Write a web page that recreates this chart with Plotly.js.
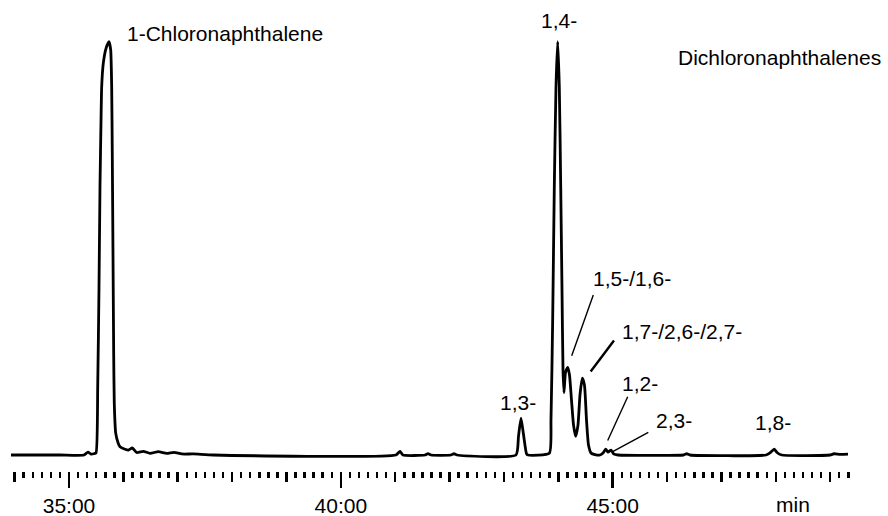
<!DOCTYPE html>
<html>
<head>
<meta charset="utf-8">
<script src="https://cdn.plot.ly/plotly-3.0.1.min.js"></script>
<style>html,body{margin:0;padding:0;background:#fff;}#chart{width:888px;height:516px;}</style>
</head>
<body>
<div id="chart"></div>
<script>
// retention time (minutes) and detector signal (% of the largest peak)
const time = [33.933,34.834,35.276,35.349,35.405,35.460,35.497,35.528,35.552,35.570,35.589,35.601,35.631,35.681,35.736,35.767,35.785,35.796,35.809,35.822,35.833,35.859,35.907,35.938,36.030,36.094,36.164,36.245,36.367,36.490,36.642,36.797,36.931,37.073,37.286,37.654,41.014,41.088,41.143,41.548,41.603,41.658,42.026,42.081,42.136,43.221,43.267,43.313,43.359,43.415,43.442,43.834,43.865,43.896,43.926,43.957,43.988,44.018,44.044,44.067,44.086,44.104,44.132,44.172,44.205,44.242,44.279,44.319,44.362,44.398,44.441,44.481,44.518,44.555,44.601,44.674,44.766,44.822,44.871,44.914,44.969,45.024,45.098,46.302,46.361,46.422,47.820,47.893,47.972,48.022,48.108,48.997,49.070,49.181,49.328];
const signal = [0,0,0,0.7,0.2,0.3,0.5,16.5,40.7,64.9,81.1,89.1,94.8,98.4,100,98,89.1,73,48.8,24.4,12.4,5.3,2.8,2.0,1.4,1.2,1.7,0.6,0.9,0.4,0.8,0.4,0.65,0.25,0.25,0,0,0.9,0,0,0.35,0,0,0.3,0,0,4.5,8.9,5,0.3,0,0.4,8.5,32.7,64.9,89.1,100,89.1,64.9,40.7,20.6,15.1,20,21.2,19.4,13.3,7.3,4.5,7.3,14.5,18.6,16.9,8.5,2.4,0.5,0.1,0,0.5,1.4,0.7,1.2,0.2,0,0,0.3,0,0,0.5,1.4,0.6,0,0,0.3,0.15,0.2];

// axis tick labels
const majorTickVals = [35, 40, 45];
const majorTickText = ["35:00", "40:00", "45:00"];
const axisUnit = "min";

// peak labels
const labelText = ["1-Chloronaphthalene", "1,4-", "Dichloronaphthalenes", "1,3-", "1,5-/1,6-", "1,7-/2,6-/2,7-", "1,2-", "2,3-", "1,8-"];
const labelTime = [37.869, 44.012, 48.059, 43.264, 45.364, 46.271, 45.502, 46.124, 47.948];
const labelSignal = [101.9, 105.1, 96.1, 12.7, 42.8, 29.8, 17.4, 8.3, 7.9];

// leader lines: from label to peak
const leaderT0 = [44.643, 45.024, 45.276, 45.655];
const leaderS0 = [38.7, 27.7, 14.1, 5.5];
const leaderT1 = [44.246, 44.595, 44.908, 45.000];
const leaderS1 = [24.0, 20.2, 3.5, 0.8];
const leaderWidth = [1.4, 2.4, 1.4, 1.4];

const FONT = "Liberation Sans, Arial, sans-serif";
const xRange = [33.9332, 49.3462];

const trace = {
  x: time, y: signal, type: "scatter", mode: "lines",
  line: {color: "#000", width: 2.8, shape: "spline", smoothing: 0.5},
  hoverinfo: "skip", showlegend: false
};
// carrier trace so the one-minute tick axis is drawn
const carrier = {
  x: [time[0]], y: [signal[0]], xaxis: "x2", yaxis: "y", type: "scatter", mode: "lines",
  line: {width: 0}, opacity: 0, hoverinfo: "skip", showlegend: false
};

const annotations = labelText.map((t, i) => ({
  x: labelTime[i], y: labelSignal[i], xref: "x", yref: "y",
  text: t, showarrow: false, xanchor: "center", yanchor: "middle",
  font: {family: FONT, size: 21, color: "#000"}
}));
annotations.push({
  x: 48.307, y: -0.0718, xref: "x", yref: "paper", text: axisUnit, showarrow: false,
  xanchor: "center", yanchor: "middle", font: {family: FONT, size: 21, color: "#000"}
});

const shapes = leaderT0.map((t, i) => ({
  type: "line", xref: "x", yref: "y",
  x0: t, y0: leaderS0[i], x1: leaderT1[i], y1: leaderS1[i],
  line: {color: "#000", width: leaderWidth[i]}
}));

const layout = {
  width: 888, height: 516,
  margin: {l: 11, r: 39, t: 0, b: 45, pad: 0},
  paper_bgcolor: "#fff", plot_bgcolor: "#fff",
  font: {family: FONT, size: 21, color: "#000"},
  showlegend: false,
  xaxis: {
    range: xRange, showgrid: false, zeroline: false, showline: false,
    ticks: "outside", tickmode: "array", tickvals: majorTickVals, ticktext: majorTickText,
    ticklen: 16, tickwidth: 2.5, tickcolor: "#000", ticklabelstandoff: 0,
    tickfont: {family: FONT, size: 21, color: "#000"},
    minor: {ticks: "outside", tickmode: "linear", tick0: 34, dtick: 1/6, ticklen: 6, tickwidth: 2.5, tickcolor: "#000", showgrid: false},
    fixedrange: true
  },
  xaxis2: {
    overlaying: "x", anchor: "y", side: "bottom", range: xRange,
    showgrid: false, zeroline: false, showline: false, showticklabels: false,
    ticks: "outside", tickmode: "linear", tick0: 34, dtick: 1,
    ticklen: 10, tickwidth: 2.5, tickcolor: "#000", fixedrange: true
  },
  yaxis: {range: [-3.871, 110.09], visible: false, fixedrange: true},
  annotations: annotations,
  shapes: shapes
};

Plotly.newPlot("chart", [trace, carrier], layout, {displayModeBar: false, staticPlot: true});
</script>
</body>
</html>
